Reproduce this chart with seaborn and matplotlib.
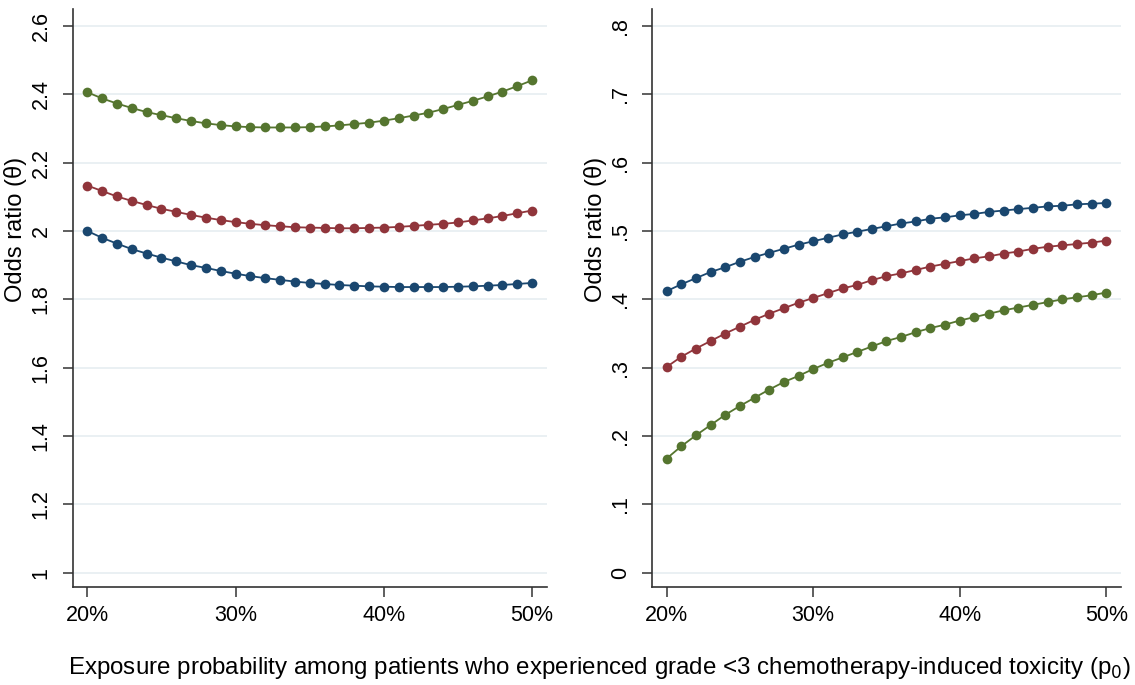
import numpy as np
import pandas as pd
import matplotlib
matplotlib.use("Agg")
import matplotlib.pyplot as plt
import seaborn as sns

sns.set_theme(style="white")
plt.rcParams['font.family'] = ['Liberation Sans', 'DejaVu Sans']

# ---------------- data ----------------
p0 = list(range(20, 51))  # exposure probability (%)

left_blue = [2.000, 1.980, 1.963, 1.947, 1.934, 1.922, 1.911, 1.900, 1.892, 1.883,
             1.875, 1.868, 1.862, 1.857, 1.852, 1.848, 1.845, 1.842, 1.840, 1.838,
             1.837, 1.836, 1.836, 1.836, 1.836, 1.837, 1.838, 1.840, 1.842, 1.845, 1.848]
left_red = [2.133, 2.117, 2.101, 2.088, 2.076, 2.065, 2.056, 2.047, 2.039, 2.032,
            2.026, 2.021, 2.017, 2.014, 2.011, 2.010, 2.009, 2.008, 2.008, 2.009,
            2.010, 2.012, 2.015, 2.018, 2.021, 2.025, 2.031, 2.037, 2.044, 2.052, 2.060]
left_green = [2.406, 2.388, 2.373, 2.360, 2.348, 2.339, 2.330, 2.322, 2.315, 2.310,
              2.306, 2.304, 2.303, 2.303, 2.303, 2.304, 2.306, 2.309, 2.313, 2.317,
              2.323, 2.330, 2.338, 2.346, 2.357, 2.369, 2.381, 2.394, 2.408, 2.424, 2.441]

right_blue = [0.412, 0.422, 0.431, 0.440, 0.447, 0.455, 0.462, 0.468, 0.474, 0.480,
              0.485, 0.490, 0.495, 0.499, 0.503, 0.507, 0.511, 0.514, 0.518, 0.520,
              0.523, 0.525, 0.528, 0.530, 0.532, 0.534, 0.536, 0.537, 0.539, 0.540, 0.541]
right_red = [0.301, 0.316, 0.328, 0.339, 0.350, 0.360, 0.370, 0.379, 0.387, 0.395,
             0.402, 0.409, 0.416, 0.421, 0.428, 0.434, 0.438, 0.443, 0.448, 0.452,
             0.456, 0.460, 0.463, 0.467, 0.470, 0.474, 0.477, 0.479, 0.481, 0.483, 0.486]
right_green = [0.167, 0.185, 0.201, 0.216, 0.231, 0.244, 0.256, 0.268, 0.279, 0.288,
               0.298, 0.307, 0.315, 0.323, 0.331, 0.339, 0.345, 0.352, 0.358, 0.363,
               0.369, 0.374, 0.379, 0.384, 0.388, 0.392, 0.396, 0.400, 0.403, 0.406, 0.410]

series_names = ["A", "B", "C"]
colors = ["#1a476f", "#90353b", "#55752f"]

left_ticks = [1.0, 1.2, 1.4, 1.6, 1.8, 2.0, 2.2, 2.4, 2.6]
left_labels = ["1", "1.2", "1.4", "1.6", "1.8", "2", "2.2", "2.4", "2.6"]
right_ticks = [0.0, 0.1, 0.2, 0.3, 0.4, 0.5, 0.6, 0.7, 0.8]
right_labels = ["0", ".1", ".2", ".3", ".4", ".5", ".6", ".7", ".8"]
x_ticks = [20, 30, 40, 50]
x_labels = ["20%", "30%", "40%", "50%"]

ylabel = "Odds ratio (θ)"
xlabel = "Exposure probability among patients who experienced grade <3 chemotherapy-induced toxicity (p$_0$)"


def long_df(vals):
    rows = []
    for name, v in zip(series_names, vals):
        for x, y in zip(p0, v):
            rows.append({"p0": x, "or": y, "series": name})
    return pd.DataFrame(rows)


df_left = long_df([left_blue, left_red, left_green])
df_right = long_df([right_blue, right_red, right_green])

fig = plt.figure(figsize=(11.35, 6.85), dpi=100)
ax1 = fig.add_axes([0.0639, 0.143, 0.418, 0.844])
ax2 = fig.add_axes([0.5744, 0.143, 0.4133, 0.844])

grid_c = "#e8eff2"
spine_c = "#333333"

for ax, df, ticks, labels, ylim in [
    (ax1, df_left, left_ticks, left_labels, (0.958, 2.65)),
    (ax2, df_right, right_ticks, right_labels, (-0.021, 0.825)),
]:
    for t in ticks:
        ax.axhline(t, color=grid_c, lw=1.3, zorder=0)
    sns.lineplot(data=df, x="p0", y="or", hue="series", palette=colors,
                 hue_order=series_names, marker="o", markersize=7,
                 markeredgewidth=0, linewidth=1.3, legend=False, ax=ax,
                 zorder=3)
    ax.set_xlim(19, 51)
    ax.set_ylim(*ylim)
    ax.set_yticks(ticks)
    ax.set_yticklabels(labels)
    ax.set_xticks(x_ticks)
    ax.set_xticklabels(x_labels)
    for s in ["top", "right"]:
        ax.spines[s].set_visible(False)
    for s in ["left", "bottom"]:
        ax.spines[s].set_color(spine_c)
        ax.spines[s].set_linewidth(1.2)
    ax.tick_params(axis="both", which="major", direction="out", length=7,
                   width=1.1, color=spine_c, labelsize=15.5, labelcolor="black",
                   left=True, bottom=True)
    ax.tick_params(axis="y", pad=8)
    ax.tick_params(axis="x", pad=6)
    for lab in ax.get_yticklabels():
        lab.set_rotation(90)
        lab.set_va("center")
        lab.set_ha("right")
    ax.set_ylabel(ylabel, fontsize=17, color="black")
    ax.set_xlabel("")
    ax.set_facecolor("white")

ax1.yaxis.set_label_coords(-0.097, 0.619)
ax2.yaxis.set_label_coords(-0.096, 0.619)

fig.text(0.528, 0.025, xlabel, ha="center", va="center", fontsize=17.4, color="black")

fig.savefig("out.png", dpi=100, facecolor="white")
